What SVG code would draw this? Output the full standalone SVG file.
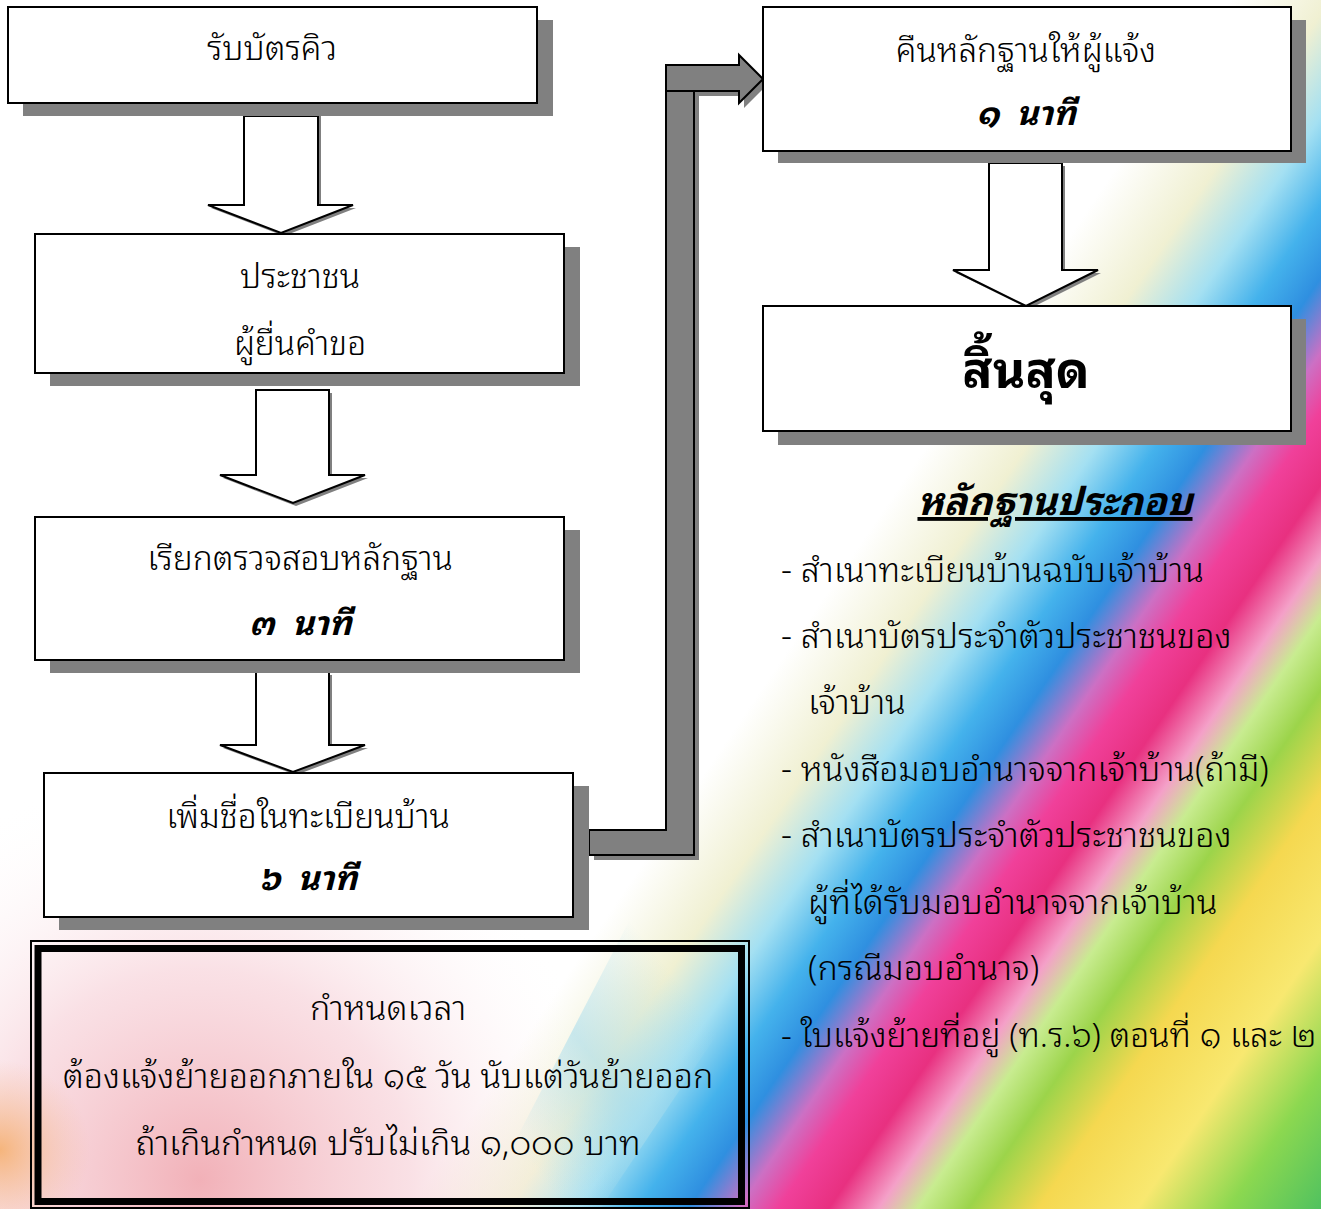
<svg xmlns="http://www.w3.org/2000/svg" width="1321" height="1209" viewBox="0 0 1321 1209">
<defs>
<style>
.t{font-family:"Noto Sans Thai Looped","Liberation Sans",sans-serif;font-size:33.5px;font-weight:300;fill:#000;text-anchor:middle}
.b{font-weight:bold;font-style:italic}
.d{font-size:34px}
.l{font-family:"Noto Sans Thai Looped","Liberation Sans",sans-serif;font-size:34px;font-weight:300;fill:#000}
.box{fill:#fff;stroke:#000;stroke-width:2}
.sh{fill:#808080}
.arr{fill:#fff;stroke:#000;stroke-width:2;stroke-linejoin:miter}
</style>
<linearGradient id="rb" gradientUnits="userSpaceOnUse" x1="841.1" y1="571.9" x2="1470.2" y2="999.7">
<stop offset="0" stop-color="#ffffff"/>
<stop offset="0.109" stop-color="#f0f0d2"/>
<stop offset="0.185" stop-color="#a4e0f2"/>
<stop offset="0.25" stop-color="#44b2ec"/>
<stop offset="0.304" stop-color="#2f8fe0"/>
<stop offset="0.359" stop-color="#cc70c4"/>
<stop offset="0.402" stop-color="#f0409a"/>
<stop offset="0.457" stop-color="#e83080"/>
<stop offset="0.511" stop-color="#f4a0c8"/>
<stop offset="0.554" stop-color="#c8ec90"/>
<stop offset="0.609" stop-color="#9cd44a"/>
<stop offset="0.685" stop-color="#f5d850"/>
<stop offset="0.793" stop-color="#f8e870"/>
<stop offset="0.891" stop-color="#8cd850"/>
<stop offset="1" stop-color="#4cc060"/>
</linearGradient>
<radialGradient id="pk" cx="200" cy="1180" r="420" gradientUnits="userSpaceOnUse">
<stop offset="0" stop-color="#f0a8b0" stop-opacity="0.9"/>
<stop offset="0.5" stop-color="#f6ccd4" stop-opacity="0.6"/>
<stop offset="1" stop-color="#ffffff" stop-opacity="0"/>
</radialGradient>
<radialGradient id="pe" cx="0" cy="1150" r="90" gradientUnits="userSpaceOnUse">
<stop offset="0" stop-color="#f5b070" stop-opacity="0.9"/>
<stop offset="1" stop-color="#f5c0a0" stop-opacity="0"/>
</radialGradient>
<linearGradient id="st" gradientUnits="userSpaceOnUse" x1="520" y1="1150" x2="700" y2="1010">
<stop offset="0" stop-color="#a8dcec" stop-opacity="0"/>
<stop offset="0.5" stop-color="#a8dcec" stop-opacity="0.6"/>
<stop offset="1" stop-color="#a8dcec" stop-opacity="0"/>
</linearGradient>
</defs>

<g id="background">
<rect width="1321" height="1209" fill="url(#rb)"/>
<rect x="0" y="780" width="760" height="429" fill="url(#pk)"/>
<rect x="0" y="1000" width="120" height="209" fill="url(#pe)"/>
<polygon points="640,900 740,900 740,1000 600,1209 480,1209" fill="url(#st)"/>
</g>

<g id="connectors">
<polygon class="sh" points="247,116 321,116 321,208 356,208 284,236 211,208 247,208"/>
<polygon class="arr" points="244,116 318,116 318,205 353,205 281,233 208,205 244,205"/>
<polygon class="sh" points="259,393 332,393 332,478 368,478 296,506 223,478 259,478"/>
<polygon class="arr" points="256,390 329,390 329,475 365,475 293,503 220,475 256,475"/>
<polygon class="sh" points="259,675 332,675 332,748 368,748 296,775 223,748 259,748"/>
<polygon class="arr" points="256,672 329,672 329,745 365,745 293,772 220,745 256,745"/>
<polygon class="sh" points="992,166 1065,166 1065,273 1101,273 1029,309 956,273 992,273"/>
<polygon class="arr" points="989,163 1062,163 1062,270 1098,270 1026,306 953,270 989,270"/>
<polygon class="sh" points="594,835 671,835 671,70 744,70 744,60 768,84 744,108 744,96 699,96 699,860 594,860"/>
<polygon fill="#808080" stroke="#000" stroke-width="2" stroke-linejoin="miter" points="589,830 666,830 666,65 739,65 739,55 763,79 739,103 739,91 694,91 694,855 589,855"/>
<line x1="666" y1="91" x2="694" y2="91" stroke="#000" stroke-width="2"/>
</g>

<g id="n1">
<rect class="sh" x="23" y="20" width="530" height="96"/>
<rect class="box" x="8" y="7" width="529" height="96"/>
<text class="t" x="272" y="60">รับบัตรคิว</text>
</g>
<g id="n2">
<rect class="sh" x="50" y="247" width="530" height="139"/>
<rect class="box" x="35" y="234" width="529" height="139"/>
<text class="t" x="300" y="288">ประชาชน</text>
<text class="t" x="300" y="355">ผู้ยื่นคำขอ</text>
</g>
<g id="n3">
<rect class="sh" x="50" y="530" width="530" height="143"/>
<rect class="box" x="35" y="517" width="529" height="143"/>
<text class="t" x="300" y="570">เรียกตรวจสอบหลักฐาน</text>
<text class="t b" x="300" y="635" xml:space="preserve">๓  นาที</text>
</g>
<g id="n4">
<rect class="sh" x="59" y="786" width="530" height="144"/>
<rect class="box" x="44" y="773" width="529" height="144"/>
<text class="t" x="308" y="828">เพิ่มชื่อในทะเบียนบ้าน</text>
<text class="t b" x="308" y="890" xml:space="preserve">๖  นาที</text>
</g>
<g id="n5">
<rect class="sh" x="778" y="20" width="528" height="143"/>
<rect class="box" x="763" y="7" width="528" height="144"/>
<text class="t" x="1026" y="62">คืนหลักฐานให้ผู้แจ้ง</text>
<text class="t b" x="1026" y="125" xml:space="preserve">๑  นาที</text>
</g>
<g id="n6">
<rect class="sh" x="778" y="319" width="528" height="126"/>
<rect class="box" x="763" y="306" width="528" height="125"/>
<text class="t" x="1026" y="388" style="font-size:50px;font-weight:bold">สิ้นสุด</text>
</g>

<g id="deadline">
<rect x="31" y="941" width="718" height="267" fill="none" stroke="#000" stroke-width="2"/>
<rect x="38" y="948.5" width="703.5" height="253" fill="none" stroke="#000" stroke-width="7"/>
<text class="t d" x="388" y="1020">กำหนดเวลา</text>
<text class="t d" x="388" y="1088">ต้องแจ้งย้ายออกภายใน ๑๕ วัน นับแต่วันย้ายออก</text>
<text class="t d" x="388" y="1155">ถ้าเกินกำหนด ปรับไม่เกิน ๑,๐๐๐ บาท</text>
</g>

<g id="documents">
<text class="t b" x="1055" y="515" style="font-size:38.5px;text-decoration:underline">หลักฐานประกอบ</text>
<text class="l" x="781" y="582">- สำเนาทะเบียนบ้านฉบับเจ้าบ้าน</text>
<text class="l" x="781" y="648">- สำเนาบัตรประจำตัวประชาชนของ</text>
<text class="l" x="808" y="714">เจ้าบ้าน</text>
<text class="l" x="781" y="781">- หนังสือมอบอำนาจจากเจ้าบ้าน(ถ้ามี)</text>
<text class="l" x="781" y="847">- สำเนาบัตรประจำตัวประชาชนของ</text>
<text class="l" x="808" y="914">ผู้ที่ได้รับมอบอำนาจจากเจ้าบ้าน</text>
<text class="l" x="808" y="980">(กรณีมอบอำนาจ)</text>
<text class="l" x="781" y="1047" style="font-size:33.5px">- ใบแจ้งย้ายที่อยู่ (ท.ร.๖) ตอนที่ ๑ และ ๒</text>
</g>
</svg>
